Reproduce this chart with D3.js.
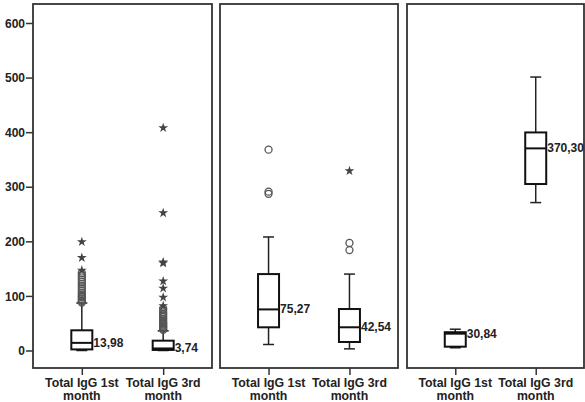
<!DOCTYPE html>
<html><head><meta charset="utf-8">
<script src="https://cdn.jsdelivr.net/npm/d3@7"></script>
<style>body{margin:0;background:#fff}svg{display:block}text{font-family:"Liberation Sans",Arial,sans-serif;font-weight:bold;fill:#222}</style>
</head><body><svg id="c" width="585" height="402"></svg>
<script>
const categories = ["Total IgG 1st month", "Total IgG 3rd month"];
const yTicks = [0, 100, 200, 300, 400, 500, 600];
const panelIds = [0, 1, 2];
const medians = [[13.98, 3.74], [75.27, 42.54], [30.84, 370.30]];
const medianLabels = [["13,98", "3,74"], ["75,27", "42,54"], ["30,84", "370,30"]];
const q1 = [[2, 1], [42.5, 15.6], [7, 305]];
const q3 = [[37, 18], [140, 76], [33.5, 399.5]];
const whiskLo = [[0, 0], [11, 3], [5, 271]];
const whiskHi = [[87, 36], [208, 140], [39, 501]];
const circles = [
  [[88, 90, 92, 95, 98, 100, 103, 106, 110, 114, 118, 122, 126, 130, 134, 138, 142], [38, 40, 42, 44, 46, 48, 50, 52, 55, 58, 61, 64, 67, 70, 74, 77]],
  [[368, 291, 287], [197, 184]],
  [[], []]
];
const stars = [
  [[147, 170, 199], [82, 97.5, 114, 127, 160, 162, 252, 408]],
  [[], [329]],
  [[], []]
];

const svg = d3.select("#c");
const panelTop = 4, panelBottom = 368;
const y = d3.scaleLinear().domain([0, 600]).range([350.5, 23]);
const panelRanges = [[33, 212], [220, 398], [407, 584]];

const yAxis = svg.append("g").attr("transform", "translate(33,0)")
  .call(d3.axisLeft(y).tickValues(yTicks).tickSize(7).tickPadding(1));
yAxis.select(".domain").remove();
yAxis.selectAll("line").attr("stroke", "#333").attr("stroke-width", 1.5);
yAxis.selectAll("text").attr("font-size", 12).attr("fill", "#222").attr("dy", "0.35em")
  .style("font-family", "'Liberation Sans',Arial,sans-serif").style("font-weight", "bold");

panelIds.forEach(p => {
  const [x0, x1] = panelRanges[p];
  const x = d3.scalePoint().domain(categories).range([x0, x1]).padding(0.6);
  const g = svg.append("g");
  g.append("rect").attr("x", x0).attr("y", panelTop).attr("width", x1 - x0).attr("height", panelBottom - panelTop)
    .attr("fill", "none").attr("stroke", "#333").attr("stroke-width", 1.8);

  const xa = g.append("g").attr("transform", `translate(0,${panelBottom})`)
    .call(d3.axisBottom(x).tickSize(7).tickFormat(""));
  xa.select(".domain").remove();
  xa.selectAll("line").attr("stroke", "#333").attr("stroke-width", 1.5);

  categories.forEach((c, i) => {
    const cx = x(c);
    const words = c.split(" ");
    const t = g.append("text").attr("text-anchor", "middle").attr("font-size", 12.3);
    t.append("tspan").attr("x", cx).attr("y", 386.5).text(words.slice(0, 3).join(" "));
    t.append("tspan").attr("x", cx).attr("y", 399.5).text(words.slice(3).join(" "));

    const bw = 21, cw = 11;
    g.append("line").attr("x1", cx).attr("x2", cx).attr("y1", y(whiskHi[p][i])).attr("y2", y(q3[p][i]))
      .attr("stroke", "#222").attr("stroke-width", 1.5);
    g.append("line").attr("x1", cx).attr("x2", cx).attr("y1", y(whiskLo[p][i])).attr("y2", y(q1[p][i]))
      .attr("stroke", "#222").attr("stroke-width", 1.5);
    [whiskHi[p][i], whiskLo[p][i]].forEach(v => {
      g.append("line").attr("x1", cx - cw / 2).attr("x2", cx + cw / 2).attr("y1", y(v)).attr("y2", y(v))
        .attr("stroke", "#222").attr("stroke-width", 1.5);
    });
    g.append("rect").attr("x", cx - bw / 2).attr("width", bw)
      .attr("y", y(q3[p][i])).attr("height", y(q1[p][i]) - y(q3[p][i]))
      .attr("fill", "#fff").attr("stroke", "#111").attr("stroke-width", 2);
    g.append("line").attr("x1", cx - bw / 2).attr("x2", cx + bw / 2)
      .attr("y1", y(medians[p][i])).attr("y2", y(medians[p][i]))
      .attr("stroke", "#111").attr("stroke-width", 2);
    g.append("text").attr("x", cx + bw / 2 + 1).attr("y", y(medians[p][i]) + 4)
      .attr("font-size", 12).text(medianLabels[p][i]);

    circles[p][i].forEach(v => {
      g.append("circle").attr("cx", cx).attr("cy", y(v)).attr("r", 3.5)
        .attr("fill", "none").attr("stroke", "#555").attr("stroke-width", 1.3);
    });
    stars[p][i].forEach(v => {
      g.append("path").attr("d", d3.symbol(d3.symbolStar, 30)())
        .attr("transform", `translate(${cx},${y(v)})`).attr("fill", "#444");
    });
  });
});
</script></body></html>
